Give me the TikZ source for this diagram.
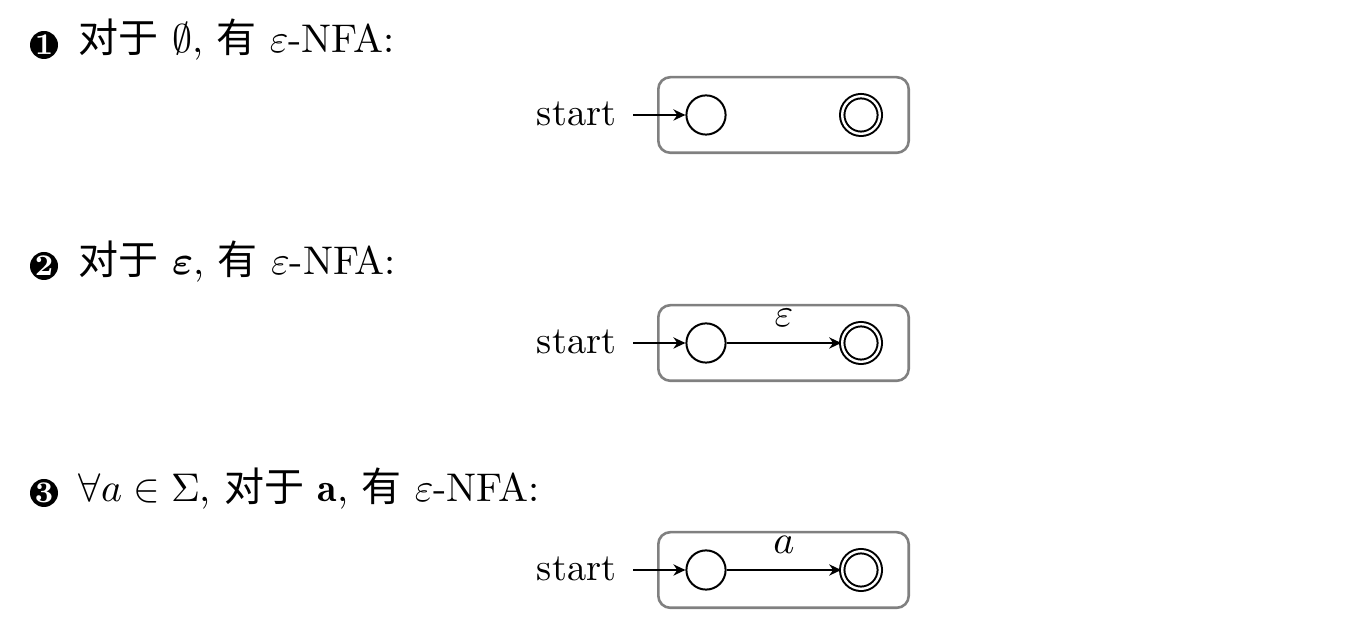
\documentclass[tikz,border=0pt]{standalone}
\usepackage{amsmath}
\usepackage{fontspec}
\newfontfamily\cjk{Noto Sans CJK SC}
\usetikzlibrary{arrows.meta}
\begin{document}
\begin{tikzpicture}[x=0.25pt,y=-0.25pt,
  font=\fontsize{9.6pt}{12pt}\selectfont,
  stt/.style={circle, draw, line width=0.5pt, minimum size=9.8pt, inner sep=0pt},
  acc/.style={circle, draw, line width=0.5pt, double, double distance=0.6pt, minimum size=9.4pt, inner sep=0pt},
  frame/.style={draw=gray, line width=0.65pt, rounded corners=3pt, minimum width=62.6pt, minimum height=18.9pt, inner sep=0pt},
  tr/.style={-{Stealth[length=3pt,width=2.8pt]}, line width=0.5pt},
  hdr/.style={anchor=base west, inner sep=0pt, font=\fontsize{10pt}{12pt}\selectfont},
  lbl/.style={above=3.9pt, inner sep=0pt},
  startlbl/.style={anchor=base east, inner sep=0pt},
  bul/.style={circle, fill=black, minimum size=7pt, inner sep=0pt, text=white, font=\fontsize{7.5pt}{8pt}\selectfont\bfseries}
]
\useasboundingbox (0,0) rectangle (1367,617);

% ---------- part 1 ----------
\node[bul] (b1) at (44,45) {1};
\node[hdr] (h1) at (78,53) {{\cjk 对于}\ $\emptyset$, {\cjk 有}\ $\varepsilon$-NFA:};
\node[frame] (box1) at (783.5,115) {};
\node[startlbl] (s1) at (617,126) {start};
\coordinate (i1) at (633,115);
\node[stt] (q1) at (706,115) {};
\node[acc] (f1) at (861,115) {};
\draw[tr] (i1) -- (q1);

% ---------- part 2 ----------
\node[bul] (b2) at (44,266) {2};
\node[hdr] (h2) at (78,275) {{\cjk 对于}\ $\boldsymbol{\varepsilon}$, {\cjk 有}\ $\varepsilon$-NFA:};
\node[frame] (box2) at (783.5,343) {};
\node[startlbl] (s2) at (617,354) {start};
\coordinate (i2) at (633,343);
\node[stt] (q2) at (706,343) {};
\node[acc] (f2) at (861,343) {};
\draw[tr] (i2) -- (q2);
\draw[tr] (q2) -- node[lbl] (e2) {$\varepsilon$} (f2);

% ---------- part 3 ----------
\node[bul] (b3) at (44,493) {3};
\node[hdr] (h3) at (78,502) {$\forall a\in\Sigma$, {\cjk 对于}\ $\mathbf{a}$, {\cjk 有}\ $\varepsilon$-NFA:};
\node[frame] (box3) at (783.5,570) {};
\node[startlbl] (s3) at (617,581) {start};
\coordinate (i3) at (633,570);
\node[stt] (q3) at (706,570) {};
\node[acc] (f3) at (861,570) {};
\draw[tr] (i3) -- (q3);
\draw[tr] (q3) -- node[lbl] (e3) {$a$} (f3);
\end{tikzpicture}
\end{document}
